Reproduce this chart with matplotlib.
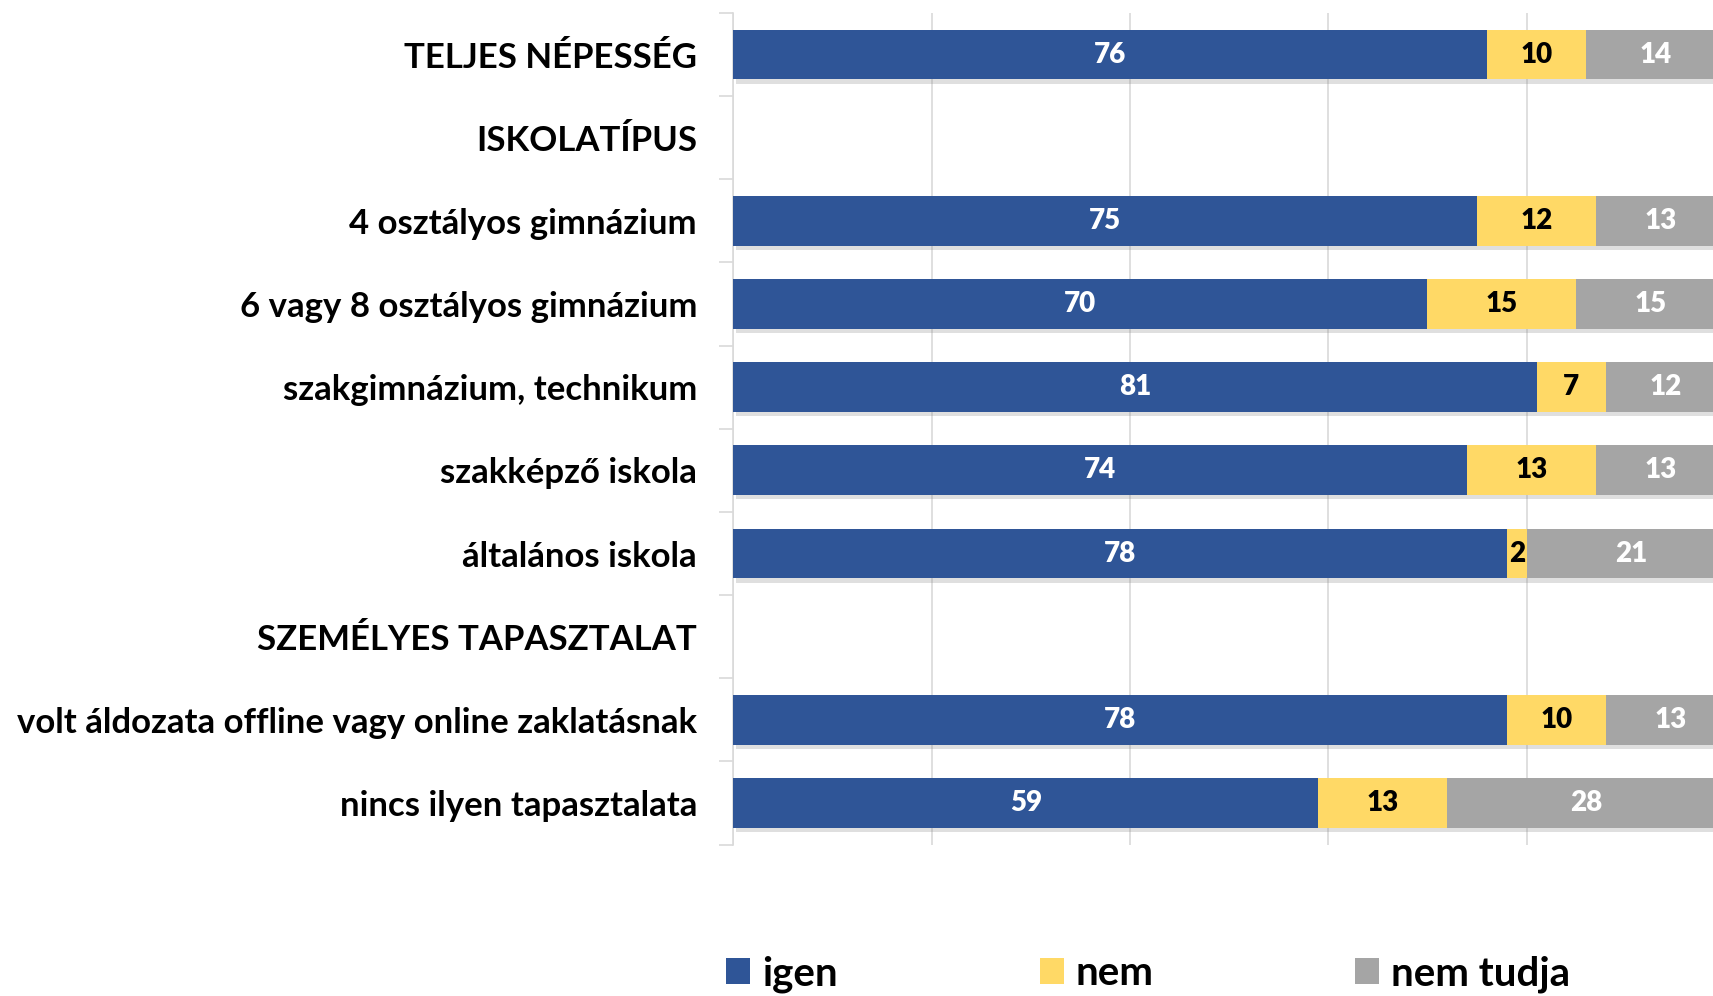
import numpy as np
import matplotlib
matplotlib.use('Agg')
import matplotlib.pyplot as plt
import matplotlib.patheffects as pe
from matplotlib.patches import Patch

# data
categories = [
    'TELJES NÉPESSÉG',
    'ISKOLATÍPUS',
    '4 osztályos gimnázium',
    '6 vagy 8 osztályos gimnázium',
    'szakgimnázium, technikum',
    'szakképző iskola',
    'általános iskola',
    'SZEMÉLYES TAPASZTALAT',
    'volt áldozata offline vagy online zaklatásnak',
    'nincs ilyen tapasztalata',
]
igen = [76, None, 75, 70, 81, 74, 78, None, 78, 59]
nem = [10, None, 12, 15, 7, 13, 2, None, 10, 13]
nem_tudja = [14, None, 13, 15, 12, 13, 21, None, 13, 28]
series_names = ['igen', 'nem', 'nem tudja']

colours = ['#2F5597', '#FFD966', '#A5A5A5']
label_colours = ['white', 'black', 'white']

plt.rcParams['font.family'] = ['Lato', 'DejaVu Sans']
plt.rcParams['font.weight'] = 'bold'

fig = plt.figure(figsize=(17.13, 9.96), dpi=100)
ax = fig.add_axes([0.428, 0.152, 0.579, 0.835])

y = np.arange(len(categories))
left = np.zeros(len(categories))
shadow = [pe.SimplePatchShadow(offset=(2, -3), alpha=0.25, shadow_rgbFace='#808080'), pe.Normal()]

for vals, col, lcol in zip([igen, nem, nem_tudja], colours, label_colours):
    v = np.array([np.nan if x is None else x for x in vals], dtype=float)
    w = np.nan_to_num(v)
    bars = ax.barh(y, w, left=left, height=0.6, color=col, zorder=3)
    for b in bars:
        b.set_path_effects(shadow)
    for i in range(len(categories)):
        if not np.isnan(v[i]):
            ax.text(left[i] + w[i] / 2, y[i], f'{int(v[i])}', ha='center', va='center',
                    color=lcol, fontsize=20, fontweight='heavy', zorder=4)
    left = left + w

ax.set_xlim(0, 100)
ax.set_ylim(len(categories) - 0.5, -0.5)

# gridlines
ax.set_xticks([0, 20, 40, 60, 80, 100])
ax.set_xticklabels([])
ax.tick_params(axis='x', length=0)
ax.grid(axis='x', color='#D9D9D9', linewidth=1.2, zorder=0)

# category labels and separator ticks
ax.set_yticks(y)
ax.set_yticklabels(categories, fontsize=25, fontweight='bold')
ax.tick_params(axis='y', which='major', length=0, pad=26)
ax.set_yticks(np.arange(-0.5, len(categories)), minor=True)
ax.tick_params(axis='y', which='minor', length=10, width=1.2, color='#D9D9D9')

for s in ['top', 'right', 'bottom']:
    ax.spines[s].set_visible(False)
ax.spines['left'].set_color('#D9D9D9')
ax.spines['left'].set_linewidth(1.2)

handles = [Patch(facecolor=c, edgecolor='none') for c in colours]
fig.legend(handles, series_names, loc='center left', bbox_to_anchor=(0.424, 0.022),
           ncol=3, frameon=False, handlelength=0.6, handleheight=0.6,
           handletextpad=0.3, columnspacing=5.0, borderpad=0, borderaxespad=0,
           prop={'weight': 'bold', 'size': 29})

fig.savefig('out.png', dpi=100)
